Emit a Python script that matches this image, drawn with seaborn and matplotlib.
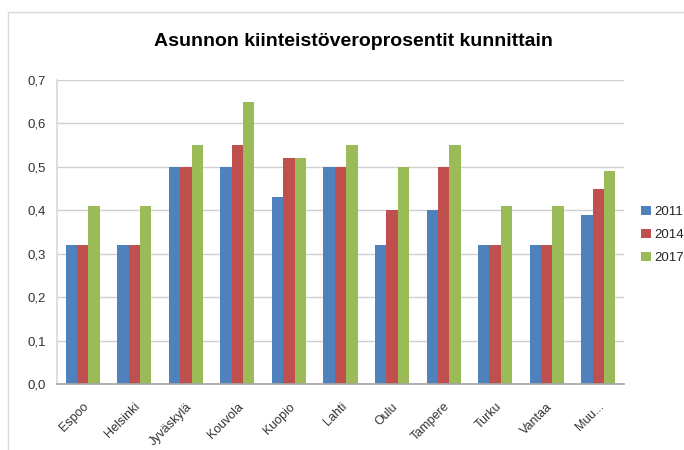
import pandas as pd
import numpy as np
import matplotlib
matplotlib.use("Agg")
import matplotlib.pyplot as plt
from matplotlib.patches import Rectangle, Patch
from matplotlib.ticker import FuncFormatter, FixedLocator
import seaborn as sns

# Data
municipalities = ["Espoo", "Helsinki", "Jyväskylä", "Kouvola", "Kuopio", "Lahti",
                  "Oulu", "Tampere", "Turku", "Vantaa", "Muu..."]
years = ["2011", "2014", "2017"]
rate_2011 = [0.32, 0.32, 0.50, 0.50, 0.43, 0.50, 0.32, 0.40, 0.32, 0.32, 0.39]
rate_2014 = [0.32, 0.32, 0.50, 0.55, 0.52, 0.50, 0.40, 0.50, 0.32, 0.32, 0.45]
rate_2017 = [0.41, 0.41, 0.55, 0.65, 0.52, 0.55, 0.50, 0.55, 0.41, 0.41, 0.49]
colors = ["#4F81BD", "#C0504D", "#9BBB59"]

df = pd.DataFrame({"Kunta": municipalities, "2011": rate_2011,
                   "2014": rate_2014, "2017": rate_2017})
long_df = df.melt(id_vars="Kunta", var_name="Vuosi", value_name="Prosentti")

sns.set_theme(style="white")
plt.rcParams["font.family"] = ["Liberation Sans", "DejaVu Sans"]

fig = plt.figure(figsize=(6.84, 4.5), dpi=100)
ax = fig.add_axes([57 / 684, 1 - 384 / 450, (624 - 57) / 684, (384 - 80) / 450])

sns.barplot(data=long_df, x="Kunta", y="Prosentti", hue="Vuosi",
            palette=colors, width=0.66, saturation=1, linewidth=0,
            ax=ax, legend=False)

ax.set_ylim(0, 0.7)
ax.set_xlim(-0.5, len(municipalities) - 0.5)
ax.set_yticks(np.arange(0, 0.71, 0.1))
ax.yaxis.set_major_formatter(FuncFormatter(lambda v, p: f"{v:.1f}".replace(".", ",")))
ax.grid(axis="y", color="#D0D0D0", linewidth=1)
ax.set_axisbelow(True)
ax.set_xlabel("")
ax.set_ylabel("")

for side in ["top", "right"]:
    ax.spines[side].set_visible(False)
ax.spines["left"].set_color("#D9D9D9")
ax.spines["bottom"].set_color("#A6A6A6")

# ticks between categories on the x axis
ax.xaxis.set_minor_locator(FixedLocator(np.arange(-0.5, len(municipalities), 1)))
ax.tick_params(axis="x", which="major", length=0, pad=12)
ax.tick_params(axis="x", which="minor", length=5, color="#A6A6A6", width=1)
ax.tick_params(axis="y", length=5, color="#A6A6A6", width=1, pad=3)
ax.set_xticks(range(len(municipalities)))
ax.set_xticklabels(municipalities, rotation=45, ha="right", rotation_mode="anchor",
                   fontsize=9, color="#333333")
for lbl in ax.get_yticklabels():
    lbl.set_fontsize(9.5)
    lbl.set_color("#333333")

fig.text(353 / 684, 1 - 42 / 450, "Asunnon kiinteistöveroprosentit kunnittain",
         ha="center", va="center", fontsize=14, fontweight="bold", color="black")

handles = [Patch(facecolor=c, edgecolor="none") for c in colors]
fig.legend(handles, years, loc="center left", bbox_to_anchor=(636 / 684, 1 - 235 / 450),
           frameon=False, fontsize=9.5, handlelength=0.7, handleheight=0.7,
           handletextpad=0.3, labelspacing=0.8, borderaxespad=0)

# chart area border (Excel style)
fig.patches.append(Rectangle((8 / 684, -0.1), 1.2, 1 - 12 / 450 + 0.1,
                             transform=fig.transFigure, fill=False,
                             edgecolor="#D9D9D9", linewidth=1))

fig.savefig("out.png", dpi=100)
